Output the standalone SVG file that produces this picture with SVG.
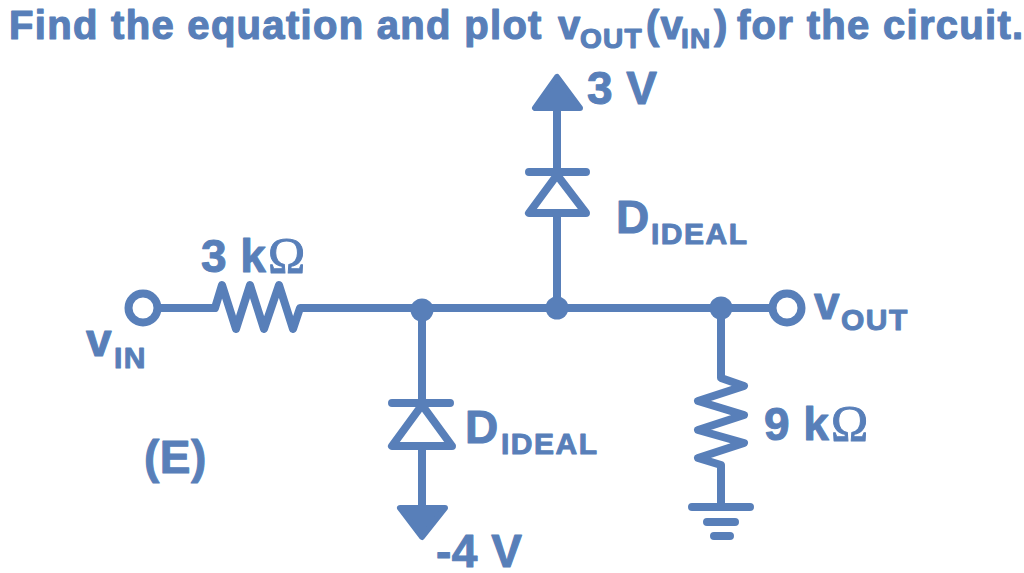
<svg xmlns="http://www.w3.org/2000/svg" width="1024" height="573" viewBox="0 0 1024 573">
<style>
text{font-family:"Liberation Sans",Arial,sans-serif;font-weight:700;fill:#587fb9;stroke:#587fb9;stroke-width:1;stroke-linejoin:round}
.t{font-size:40px;letter-spacing:1.3px;stroke-width:1.2px}
.l{font-size:46px;letter-spacing:.5px}
.s{font-size:30px;letter-spacing:1.5px}
.ts{font-size:28px;letter-spacing:1.2px}
.o{font-family:"Liberation Serif","DejaVu Serif",serif;font-weight:400;font-size:50px}
.w{fill:none;stroke:#587fb9;stroke-width:8;stroke-linecap:round;stroke-linejoin:round}
.f{fill:#587fb9;stroke:#587fb9;stroke-width:6;stroke-linejoin:round}
.r{fill:#fff;stroke:#587fb9;stroke-width:8}
</style>
<rect width="1024" height="573" fill="#fff"/>
<g id="connectors">
<path class="w" d="M158 308H215L222 285L236 329L250 285L264 329L279 285L293 329L300 308H772"/>
<path class="w" d="M557 308V213M557 172V109"/>
<path class="w" d="M422 308V403M422 446V507"/>
<path class="w" d="M721 308V378L744 386L698 401L744 415L698 430L744 443L698 458L721 465V507"/>
</g>
<g id="title"><text class="t" x="9" y="39">Find the equation and plot<tspan x="558">v</tspan><tspan class="ts" x="580" dy="9">OUT</tspan><tspan x="646" dy="-9">(v</tspan><tspan class="ts" x="681" dy="9">IN</tspan><tspan x="714" dy="-9">)</tspan><tspan x="737">for the circuit.</tspan></text></g>
<g id="vin"><circle class="r" cx="143" cy="308" r="14.5"/><text class="l" x="86" y="356">v<tspan class="s" x="114" dy="12">IN</tspan></text></g>
<g id="r1"><text class="l" x="201" y="272">3 k<tspan class="o" x="268">Ω</tspan></text></g>
<g id="j1"><circle cx="422" cy="310" r="11.5" fill="#587fb9"/></g>
<g id="j2"><circle cx="557" cy="308" r="11.5" fill="#587fb9"/></g>
<g id="j3"><circle cx="721" cy="308" r="11.5" fill="#587fb9"/></g>
<g id="d-top">
<path class="w" d="M529 172H586M557 175L529 213H586Z"/>
<text class="l" x="616" y="233">D<tspan class="s" x="651" dy="11">IDEAL</tspan></text>
</g>
<g id="supply-3v"><path class="f" d="M557 77L535 108H580Z"/><text class="l" x="587" y="104">3 V</text></g>
<g id="d-bottom">
<path class="w" d="M392 403H450M422 405L392 446H452Z"/>
<text class="l" x="465" y="443">D<tspan class="s" x="501" dy="11">IDEAL</tspan></text>
</g>
<g id="supply-4v"><path class="f" d="M400 508H445L422 537Z"/><text class="l" x="436" y="567">-4 V</text></g>
<g id="vout"><circle class="r" cx="787" cy="308" r="14.5"/><text class="l" x="814" y="319">v<tspan class="s" x="841" dy="11">OUT</tspan></text></g>
<g id="r2"><text class="l" x="764" y="440">9 k<tspan class="o" x="831">Ω</tspan></text></g>
<g id="ground"><path class="w" d="M692 507H750M707 522H735M714 536H730"/></g>
<g id="label-e"><text class="l" x="144" y="473">(E)</text></g>
</svg>
